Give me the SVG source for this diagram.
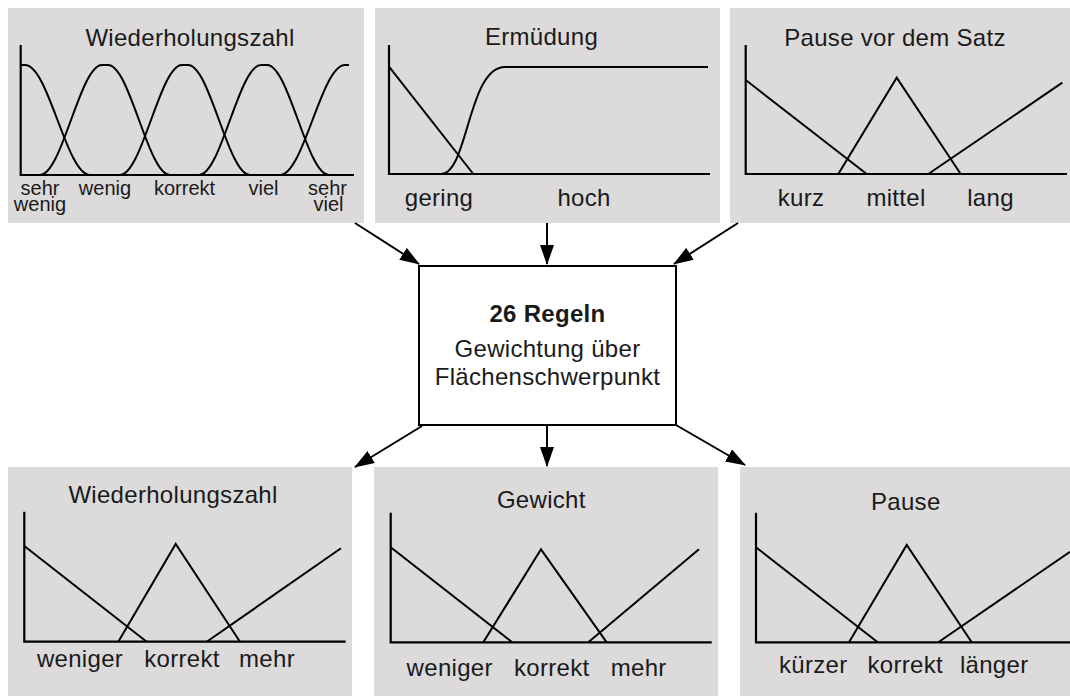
<svg xmlns="http://www.w3.org/2000/svg" width="1070" height="696" viewBox="0 0 1070 696">
  <defs>
    <marker id="arrowhead" viewBox="0 0 20 14" refX="19" refY="7" markerWidth="20" markerHeight="14" markerUnits="userSpaceOnUse" orient="auto">
      <path d="M0,0 L20,7 L0,14 z" fill="#000"/>
    </marker>
  </defs>
  <style>
    .panel { fill: #dcdadb; }
    .axis { fill: none; stroke: #000; stroke-width: 2.2; }
    .curve { fill: none; stroke: #000; stroke-width: 2; stroke-linejoin: miter; }
    .title { font-family: "Liberation Sans", Arial, sans-serif; font-size: 24px; letter-spacing: 0.3px; fill: #1a1a1a; text-anchor: middle; }
    .label { font-family: "Liberation Sans", Arial, sans-serif; font-size: 24px; letter-spacing: 0.3px; fill: #1a1a1a; text-anchor: middle; }
    .small { font-family: "Liberation Sans", Arial, sans-serif; font-size: 20px; fill: #1a1a1a; text-anchor: middle; }
    .rules { fill: #fff; stroke: #000; stroke-width: 2; }
    .conn { fill: none; stroke: #000; stroke-width: 2; marker-end: url(#arrowhead); }
  </style>

  <rect width="1070" height="696" fill="#fff"/>

  <!-- Input: repetitions -->
  <g id="in-wiederholungszahl">
    <rect class="panel" x="8" y="8" width="356" height="215"/>
    <text class="title" x="190" y="46">Wiederholungszahl</text>
    <path class="axis" d="M20.7,45 V175 H354"/>
    <path class="curve" d="M20.7,65 H25 C48.6,65 66.4,175 90,175"/>
    <path class="curve" d="M40,175 C62,175 80,65 102,65 H108 C130,65 148,175 170,175"/>
    <path class="curve" d="M120,175 C142,175 160,65 182,65 H188 C210,65 228,175 250,175"/>
    <path class="curve" d="M199,175 C221,175 239,65 261,65 H267 C289,65 307,175 329,175"/>
    <path class="curve" d="M280,175 C303.6,175 321.4,65 345,65 H349"/>
    <!-- two-line labels are set tight, as printed -->
    <text class="small" x="40" y="195"><tspan x="40" y="195">sehr</tspan><tspan x="40" y="211">wenig</tspan></text>
    <text class="small" x="105" y="195">wenig</text>
    <text class="small" x="184.5" y="195">korrekt</text>
    <text class="small" x="263.5" y="195">viel</text>
    <text class="small" x="328" y="195"><tspan x="327.5" y="195">sehr</tspan><tspan x="328.5" y="211">viel</tspan></text>
  </g>

  <!-- Input: fatigue -->
  <g id="in-ermuedung">
    <rect class="panel" x="375" y="8" width="345" height="215"/>
    <text class="title" x="541.5" y="45">Ermüdung</text>
    <path class="axis" d="M389,45 V174 H710"/>
    <path class="curve" d="M389,66.7 L473.3,174"/>
    <path class="curve" d="M441,174 C468,174 468,67 505,67 H708"/>
    <text class="label" x="439" y="206">gering</text>
    <text class="label" x="584" y="206">hoch</text>
  </g>

  <!-- Input: rest before the set -->
  <g id="in-pause">
    <rect class="panel" x="730" y="8" width="340" height="215"/>
    <text class="title" x="895" y="46">Pause vor dem Satz</text>
    <path class="axis" d="M745.7,45 V174 H1067"/>
    <path class="curve" d="M745.7,80 L866.7,174"/>
    <path class="curve" d="M838.3,174 L896.7,77.7 L960.7,174"/>
    <path class="curve" d="M928.3,174 L1062.3,82.7"/>
    <text class="label" x="801" y="206">kurz</text>
    <text class="label" x="896" y="206">mittel</text>
    <text class="label" x="990.5" y="206">lang</text>
  </g>

  <!-- Rule base -->
  <g id="regeln">
    <rect class="rules" x="419" y="266" width="257" height="159"/>
    <text class="label" x="547.5" y="322" font-weight="bold">26 Regeln</text>
    <text class="label" x="547.5" y="357">Gewichtung über</text>
    <text class="label" x="547.5" y="385">Flächenschwerpunkt</text>
  </g>

  <!-- Output: repetitions -->
  <g id="out-wiederholungszahl">
    <rect class="panel" x="8" y="467" width="344" height="229"/>
    <text class="title" x="173" y="503">Wiederholungszahl</text>
    <path class="axis" d="M24.3,511.7 V641.7 H345.7"/>
    <path class="curve" d="M24.3,546 L146.7,641.7"/>
    <path class="curve" d="M118.3,641.7 L175.7,544 L240,641.7"/>
    <path class="curve" d="M206.7,641.7 L341,548.3"/>
    <text class="label" x="80" y="667">weniger</text>
    <text class="label" x="182" y="667">korrekt</text>
    <text class="label" x="267" y="667">mehr</text>
  </g>

  <!-- Output: weight -->
  <g id="out-gewicht">
    <rect class="panel" x="374" y="467" width="344" height="229"/>
    <text class="title" x="541.3" y="508">Gewicht</text>
    <path class="axis" d="M390.7,512.7 V642.3 H711.7"/>
    <path class="curve" d="M390.7,547.3 L512.3,642.3"/>
    <path class="curve" d="M483.3,642.3 L541,549.3 L606.7,642.3"/>
    <path class="curve" d="M588.3,642.3 L699,549.3"/>
    <text class="label" x="449.7" y="676">weniger</text>
    <text class="label" x="551.8" y="676">korrekt</text>
    <text class="label" x="638.7" y="676">mehr</text>
  </g>

  <!-- Output: rest -->
  <g id="out-pause">
    <rect class="panel" x="740" y="467" width="330" height="229"/>
    <text class="title" x="905.8" y="510">Pause</text>
    <path class="axis" d="M756,512.7 V642.3 H1070"/>
    <path class="curve" d="M756,547.3 L877.7,642.3"/>
    <path class="curve" d="M849,642.3 L906.7,545 L971.7,642.3"/>
    <path class="curve" d="M938.3,642.3 L1070,551.7"/>
    <text class="label" x="813.3" y="673">kürzer</text>
    <text class="label" x="905.3" y="673">korrekt</text>
    <text class="label" x="994.2" y="673">länger</text>
  </g>

  <!-- Connectors -->
  <g id="connectors">
    <line class="conn" x1="355" y1="223" x2="419" y2="264"/>
    <line class="conn" x1="547" y1="223" x2="547" y2="264"/>
    <line class="conn" x1="738" y1="223" x2="674" y2="264"/>
    <line class="conn" x1="422" y1="426" x2="355" y2="467"/>
    <line class="conn" x1="547" y1="426" x2="547" y2="466"/>
    <line class="conn" x1="676" y1="425" x2="745" y2="465"/>
  </g>
</svg>
